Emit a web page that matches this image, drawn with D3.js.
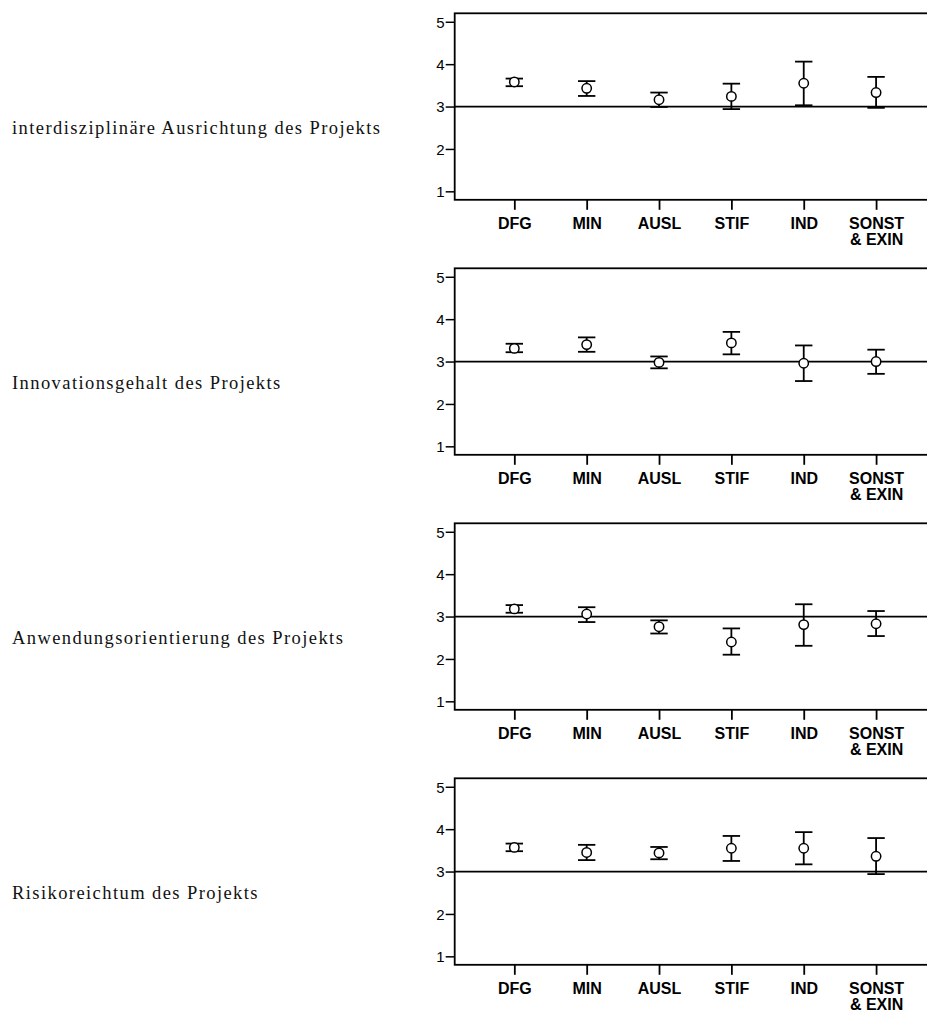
<!DOCTYPE html>
<html>
<head>
<meta charset="utf-8">
<script src="https://cdn.jsdelivr.net/npm/d3@7"></script>
<style>
  html, body { margin: 0; padding: 0; background: #fff; }
  svg { display: block; }
</style>
</head>
<body>
<script>
// ---- Data ----
const categories = ["DFG", "MIN", "AUSL", "STIF", "IND", "SONST\n& EXIN"];
const panelTitles = [
  "interdisziplinäre Ausrichtung des Projekts",
  "Innovationsgehalt des Projekts",
  "Anwendungsorientierung des Projekts",
  "Risikoreichtum des Projekts"
];
const yTicks = [1, 2, 3, 4, 5];
const referenceValue = 3;

// means and confidence bounds per panel (order of categories)
const meanInterdisziplinaer = [3.58, 3.43, 3.16, 3.24, 3.55, 3.33];
const lowInterdisziplinaer  = [3.48, 3.25, 2.99, 2.94, 3.03, 2.97];
const highInterdisziplinaer = [3.66, 3.60, 3.33, 3.54, 4.06, 3.70];

const meanInnovation = [3.31, 3.40, 2.98, 3.44, 2.96, 3.00];
const lowInnovation  = [3.22, 3.23, 2.84, 3.17, 2.54, 2.71];
const highInnovation = [3.42, 3.57, 3.12, 3.70, 3.38, 3.28];

const meanAnwendung = [3.18, 3.06, 2.76, 2.40, 2.81, 2.83];
const lowAnwendung  = [3.09, 2.87, 2.60, 2.10, 2.31, 2.54];
const highAnwendung = [3.27, 3.22, 2.91, 2.72, 3.29, 3.13];

const meanRisiko = [3.57, 3.45, 3.44, 3.55, 3.55, 3.36];
const lowRisiko  = [3.48, 3.27, 3.29, 3.25, 3.17, 2.94];
const highRisiko = [3.66, 3.63, 3.58, 3.84, 3.93, 3.79];

const panelMeans = [meanInterdisziplinaer, meanInnovation, meanAnwendung, meanRisiko];
const panelLows  = [lowInterdisziplinaer, lowInnovation, lowAnwendung, lowRisiko];
const panelHighs = [highInterdisziplinaer, highInnovation, highAnwendung, highRisiko];

// ---- Layout ----
const W = 927, Hsvg = 1012;
const frameLeft = 454.7, frameWidth = 481, frameHeight = 186.5;
const panelTop0 = 13.3, panelStep = 255;
const labelX = 12, labelOffset = 120.7, labelTargetWidth = 368;
const serif = "'Liberation Serif', 'Times New Roman', serif";
const sans = "Arial, 'Liberation Sans', Helvetica, sans-serif";
const labelSize = 18.5;

const svg = d3.select("body").append("svg")
  .attr("width", W).attr("height", Hsvg)
  .attr("viewBox", `0 0 ${W} ${Hsvg}`);

const x = d3.scalePoint().domain(categories).range([0, frameWidth]).padding(0.824);
const y = d3.scaleLinear().domain([0.8, 5.2]).range([frameHeight, 0]);

const capHalf = 8.7, r = 4.7, sw = 1.8;

// letter spacing fitted from the first label's width
let letterSpacing = 0;
{
  const t = svg.append("text").style("font-family", serif)
    .style("font-size", labelSize + "px").text(panelTitles[0]);
  const natural = t.node().getComputedTextLength();
  letterSpacing = (labelTargetWidth - natural) / (panelTitles[0].length - 1);
  t.remove();
}

panelTitles.forEach((title, p) => {
  const top = panelTop0 + p * panelStep;

  svg.append("text")
    .attr("x", labelX).attr("y", top + labelOffset)
    .style("font-family", serif)
    .style("font-size", labelSize + "px")
    .style("letter-spacing", letterSpacing + "px")
    .attr("fill", "#111")
    .text(title);

  const g = svg.append("g").attr("transform", `translate(${frameLeft},${top})`);

  // frame
  g.append("rect").attr("x", 0).attr("y", 0)
    .attr("width", frameWidth).attr("height", frameHeight)
    .attr("fill", "none").attr("stroke", "#000").attr("stroke-width", sw);

  // y axis
  const ya = g.append("g").call(d3.axisLeft(y).tickValues(yTicks).tickSize(9).tickPadding(1).tickFormat(d3.format("d")));
  ya.attr("font-size", null).attr("font-family", null);
  ya.select(".domain").remove();
  ya.selectAll("line").attr("stroke", "#000").attr("stroke-width", 1.5);
  ya.selectAll("text")
    .style("font-family", sans)
    .style("font-size", "15px")
    .attr("fill", "#000").attr("dy", "0.36em");

  // x axis
  const xa = g.append("g").attr("transform", `translate(0,${frameHeight})`)
    .call(d3.axisBottom(x).tickSize(10).tickPadding(0).tickFormat(""));
  xa.attr("font-size", null).attr("font-family", null);
  xa.select(".domain").remove();
  xa.selectAll("line").attr("stroke", "#000").attr("stroke-width", sw);
  xa.selectAll(".tick").each(function(d) {
    const lines = d.split("\n");
    const t = d3.select(this).append("text")
      .style("font-family", sans)
      .style("font-weight", "bold").style("font-size", "16px")
      .attr("fill", "#000").attr("text-anchor", "middle");
    lines.forEach((ln, i) => {
      t.append("tspan").attr("x", 0).attr("y", 29 + i * 16).text(ln);
    });
  });

  // reference line
  g.append("line")
    .attr("x1", 0).attr("x2", frameWidth)
    .attr("y1", y(referenceValue)).attr("y2", y(referenceValue))
    .attr("stroke", "#000").attr("stroke-width", sw);

  const data = categories.map((c, i) => ({ c, m: panelMeans[p][i], lo: panelLows[p][i], hi: panelHighs[p][i] }));
  const eb = g.selectAll(".eb").data(data).enter().append("g").attr("class", "eb");
  eb.append("line")
    .attr("x1", d => x(d.c)).attr("x2", d => x(d.c))
    .attr("y1", d => y(d.lo)).attr("y2", d => y(d.hi))
    .attr("stroke", "#000").attr("stroke-width", sw);
  eb.append("line")
    .attr("x1", d => x(d.c) - capHalf).attr("x2", d => x(d.c) + capHalf)
    .attr("y1", d => y(d.hi)).attr("y2", d => y(d.hi))
    .attr("stroke", "#000").attr("stroke-width", sw);
  eb.append("line")
    .attr("x1", d => x(d.c) - capHalf).attr("x2", d => x(d.c) + capHalf)
    .attr("y1", d => y(d.lo)).attr("y2", d => y(d.lo))
    .attr("stroke", "#000").attr("stroke-width", sw);
  eb.append("circle")
    .attr("cx", d => x(d.c)).attr("cy", d => y(d.m)).attr("r", r)
    .attr("fill", "#fff").attr("stroke", "#000").attr("stroke-width", 1.5);
});
</script>
</body>
</html>
